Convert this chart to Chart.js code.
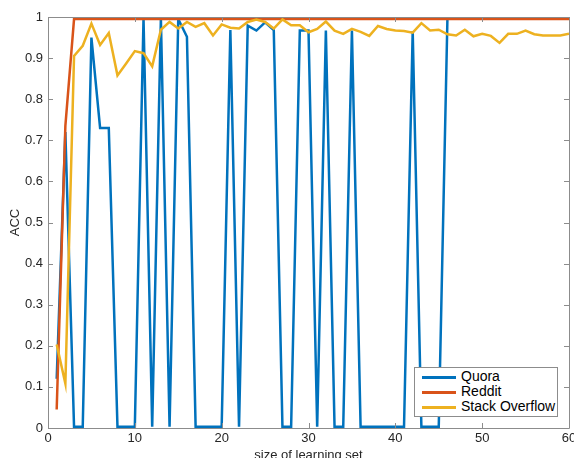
<!DOCTYPE html>
<html><head><meta charset="utf-8">
<script src="https://cdn.jsdelivr.net/npm/chart.js@4/dist/chart.umd.min.js"></script>
<style>
html,body{margin:0;padding:0;background:#fff;overflow:hidden}
#wrap{position:relative;width:574px;height:458px}
#legend{position:absolute;left:414px;top:367px;width:144px;height:50px;border:1px solid #8c8c8c;background:#fff;box-sizing:border-box;font:14px "Liberation Sans",Arial,sans-serif;color:#000}
.item{position:absolute;left:0;right:0;height:15px}
.sw{position:absolute;left:7px;top:6px;width:34px;height:3px}
.lab{position:absolute;left:46px;top:-1px;line-height:15px;white-space:nowrap}
</style>
</head><body>
<div id="wrap"><canvas id="c" width="574" height="458"></canvas><div id="legend"></div></div>
<script>
const xValues = [1,2,3,4,5,6,7,8,9,10,11,12,13,14,15,16,17,18,19,20,21,22,23,24,25,26,27,28,29,30,31,32,33,34,35,36,37,38,39,40,41,42,43,44,45,46,47,48,49,50,51,52,53,54,55,56,57,58,59,60];
const quora = [0.12,0.72,0.003,0.003,0.95,0.73,0.73,0.003,0.003,0.003,
  0.997,0.003,0.997,0.003,0.995,0.952,0.003,0.003,0.003,0.003,
  0.968,0.003,0.979,0.967,0.987,0.968,0.003,0.003,0.967,0.967,
  0.003,0.967,0.003,0.003,0.967,0.003,0.003,0.003,0.003,0.003,
  0.003,0.966,0.003,0.003,0.003,0.997,0.997,0.997,0.997,0.997,
  0.997,0.997,0.997,0.997,0.997,0.997,0.997,0.997,0.997,0.997];
const reddit = [0.045,0.735,0.995,0.995,0.995,0.995,0.995,0.995,0.995,0.995,
  0.995,0.995,0.995,0.995,0.995,0.995,0.995,0.995,0.995,0.995,
  0.995,0.995,0.995,0.995,0.995,0.995,0.995,0.995,0.995,0.995,
  0.995,0.995,0.995,0.995,0.995,0.995,0.995,0.995,0.995,0.995,
  0.995,0.995,0.995,0.995,0.995,0.995,0.995,0.995,0.995,0.995,
  0.995,0.995,0.995,0.995,0.995,0.995,0.995,0.995,0.995,0.995];
const stackOverflow = [0.203,0.108,0.905,0.93,0.984,0.932,0.961,0.858,0.887,0.917,
  0.912,0.880,0.969,0.988,0.972,0.988,0.976,0.985,0.955,0.982,
  0.974,0.972,0.988,0.994,0.988,0.972,0.994,0.980,0.980,0.963,
  0.971,0.989,0.967,0.959,0.971,0.964,0.954,0.978,0.971,0.967,
  0.966,0.962,0.985,0.967,0.969,0.958,0.955,0.969,0.953,0.959,
  0.954,0.937,0.959,0.959,0.967,0.958,0.955,0.955,0.955,0.959];
const seriesNames = ['Quora','Reddit','Stack Overflow'];
const seriesColors = ['#0072BD','#D95319','#EDB120'];
const xTickLabels = ['0','10','20','30','40','50','60'];
const yTickLabels = ['0','0.1','0.2','0.3','0.4','0.5','0.6','0.7','0.8','0.9','1'];
const xTitle = 'size of learning set';
const yTitle = 'ACC';

const FONT = '"Liberation Sans", Arial, Helvetica, sans-serif';
const seriesData = [quora, reddit, stackOverflow];
const datasets = seriesData.map((arr, i) => ({
  label: seriesNames[i],
  data: arr.map((v, j) => ({x: xValues[j], y: v})),
  borderColor: seriesColors[i],
  backgroundColor: seriesColors[i],
  borderWidth: 2.5,
  pointRadius: 0,
  tension: 0,
  fill: false,
  order: 3 - i
}));

const boxPlugin = {
  id: 'box',
  afterDraw(chart) {
    const {ctx, chartArea: a} = chart;
    const xs = chart.scales.x, ys = chart.scales.y;
    ctx.save();
    ctx.strokeStyle = '#8c8c8c';
    ctx.lineWidth = 1;
    ctx.beginPath();
    ctx.rect(Math.round(a.left) + 0.5, Math.round(a.top) + 0.5, Math.round(a.right - a.left), Math.round(a.bottom - a.top));
    ctx.stroke();
    const L = 5;
    ctx.beginPath();
    xs.ticks.forEach(t => {
      const px = Math.round(xs.getPixelForValue(t.value)) + 0.5;
      ctx.moveTo(px, a.bottom); ctx.lineTo(px, a.bottom - L);
      ctx.moveTo(px, a.top); ctx.lineTo(px, a.top + L);
    });
    ys.ticks.forEach(t => {
      const py = Math.round(ys.getPixelForValue(t.value)) + 0.5;
      ctx.moveTo(a.left, py); ctx.lineTo(a.left + L, py);
      ctx.moveTo(a.right, py); ctx.lineTo(a.right - L, py);
    });
    ctx.stroke();
    ctx.restore();
  }
};

new Chart(document.getElementById('c'), {
  type: 'line',
  data: {datasets},
  options: {
    responsive: false,
    animation: false,
    devicePixelRatio: 1,
    layout: {padding: {top: 17, right: 5, left: 0, bottom: 0}},
    plugins: {legend: {display: false}, tooltip: {enabled: false}},
    scales: {
      x: {
        type: 'linear', min: 0, max: 60,
        grid: {display: false, drawTicks: false},
        border: {display: false},
        ticks: {stepSize: 10, maxRotation: 0, padding: 3, color: '#262626',
          font: {size: 13, family: FONT},
          callback: (v, i) => xTickLabels[i]},
        title: {display: true, text: xTitle, color: '#262626',
          font: {size: 13, family: FONT}, padding: {top: 0, bottom: -5}},
        afterFit(s) { s.height = 30; s.paddingLeft = 0; s.paddingRight = 0; }
      },
      y: {
        type: 'linear', min: 0, max: 1,
        grid: {display: false, drawTicks: false},
        border: {display: false},
        ticks: {stepSize: 0.1, padding: 5, color: '#262626',
          font: {size: 13, family: FONT},
          callback: (v, i) => yTickLabels[i]},
        title: {display: true, text: yTitle, color: '#262626',
          font: {size: 13, family: FONT}, padding: {top: 8, bottom: 0}},
        afterFit(s) { s.width = 48; s.paddingTop = 0; s.paddingBottom = 0; }
      }
    }
  },
  plugins: [boxPlugin]
});

const leg = document.getElementById('legend');
seriesNames.forEach((n, i) => {
  const it = document.createElement('div');
  it.className = 'item';
  it.style.top = (2 + i * 15) + 'px';
  const sw = document.createElement('div');
  sw.className = 'sw';
  sw.style.background = seriesColors[i];
  const lb = document.createElement('div');
  lb.className = 'lab';
  lb.textContent = n;
  it.appendChild(sw); it.appendChild(lb);
  leg.appendChild(it);
});
</script>
</body></html>
